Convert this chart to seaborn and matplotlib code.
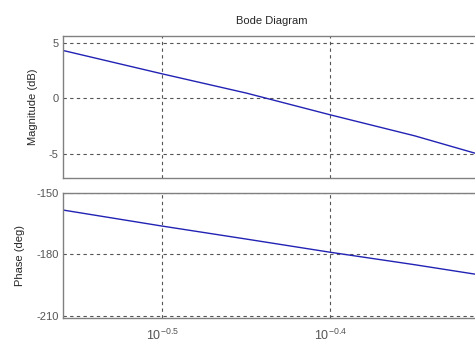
import matplotlib
matplotlib.use("Agg")
import matplotlib.pyplot as plt
from matplotlib.ticker import FixedLocator, NullLocator, FixedFormatter
import pandas as pd
import seaborn as sns

# frequency points (rad/s)
freq = [0.276, 0.316, 0.355, 0.398, 0.447, 0.489]
magnitude_db = [4.3, 2.2, 0.45, -1.5, -3.4, -5.1]
phase_deg = [-158.3, -166.1, -172.5, -178.9, -185.0, -190.0]

mag_ticks = [-5, 0, 5]
phase_ticks = [-210, -180, -150]
freq_ticks = [10 ** -0.5, 10 ** -0.4]
freq_labels = [r'$10^{-0.5}$', r'$10^{-0.4}$']

sns.set_style("white")
plt.rcParams['font.family'] = ['Liberation Sans', 'DejaVu Sans']
plt.rcParams['mathtext.fontset'] = 'custom'
plt.rcParams['mathtext.rm'] = 'Liberation Sans'
plt.rcParams['axes.unicode_minus'] = False

df = pd.DataFrame({'freq': freq, 'mag': magnitude_db, 'phase': phase_deg})

fig = plt.figure(figsize=(4.75, 3.45), dpi=100)
ax1 = fig.add_axes([63 / 475, 1 - 178 / 345, 1.01 - 63 / 475, (178 - 36) / 345])
ax2 = fig.add_axes([63 / 475, 1 - 318 / 345, 1.01 - 63 / 475, (318 - 193) / 345])

line_color = '#2222b4'
sns.lineplot(data=df, x='freq', y='mag', ax=ax1, color=line_color, linewidth=1.0)
sns.lineplot(data=df, x='freq', y='phase', ax=ax2, color=line_color, linewidth=1.0)

for ax in (ax1, ax2):
    ax.set_xscale('log')
    ax.set_xlim(10 ** -0.559, 10 ** -0.311)
    ax.xaxis.set_major_locator(FixedLocator(freq_ticks))
    ax.xaxis.set_minor_locator(NullLocator())
    ax.grid(True, color='#555555', linestyle=(0, (3, 3)), linewidth=0.8)
    for s in ax.spines.values():
        s.set_color('#808080')
        s.set_linewidth(1.0)
    ax.tick_params(length=0, labelsize=8, labelcolor='#555555', pad=3)
    ax.set_xlabel('')

ax1.set_ylim(-7.2, 5.6)
ax1.yaxis.set_major_locator(FixedLocator(mag_ticks))
ax1.set_xticklabels([])
ax1.set_ylabel('Magnitude (dB)', fontsize=8, labelpad=8)
ax1.set_title('Bode Diagram', fontsize=8, pad=9)

ax2.set_ylim(-211, -150)
ax2.yaxis.set_major_locator(FixedLocator(phase_ticks))
ax2.xaxis.set_major_formatter(FixedFormatter(freq_labels))
ax2.tick_params(axis='x', labelsize=9, labelcolor='#555555', pad=7)
ax2.set_ylabel('Phase (deg)', fontsize=8, labelpad=8)

fig.savefig('out.png', dpi=100)
